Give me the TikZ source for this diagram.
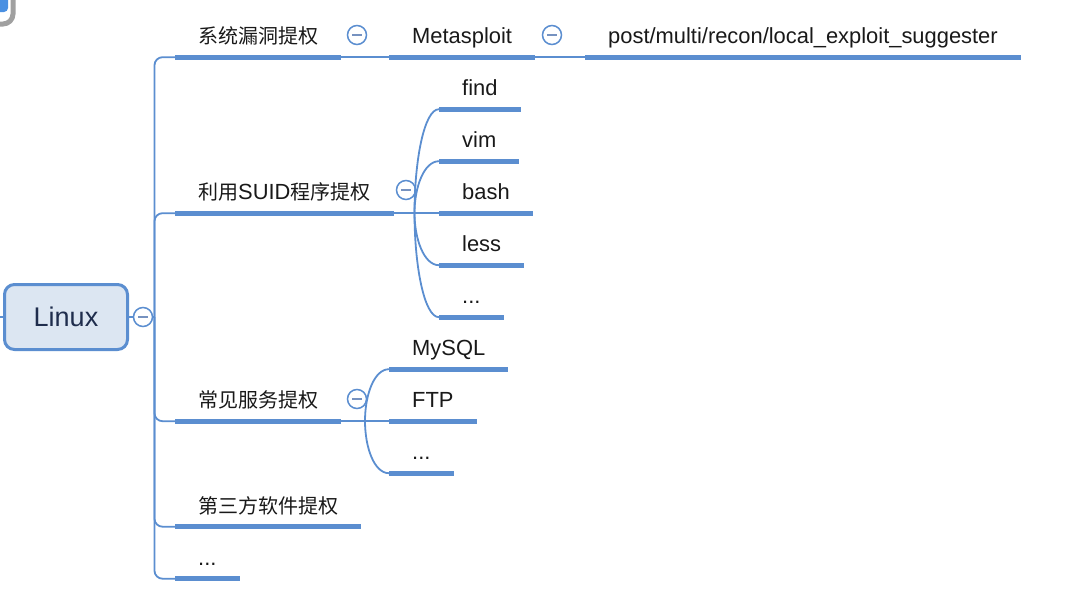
\documentclass[tikz,border=0pt]{standalone}
\usepackage{fontspec}
\setmainfont{Liberation Sans}
\newfontfamily\cjk{Noto Sans CJK SC}
\newcommand\zhtext[1]{{\cjk\fontsize{20}{24}\selectfont #1}}
\usetikzlibrary{positioning,calc}
\definecolor{mapblue}{RGB}{91,142,208}
\definecolor{rootfill}{RGB}{220,230,242}
\definecolor{roottext}{RGB}{31,45,77}
\definecolor{minusgray}{RGB}{118,146,192}
\definecolor{artgray}{RGB}{160,160,160}
\definecolor{artblue}{RGB}{74,144,226}
\tikzset{
  topic/.style={anchor=base west, inner xsep=23pt, inner ysep=13.5pt, text depth=0pt,
    font=\fontsize{21.9}{24}\selectfont, text=black!90},
  root/.style={draw=mapblue, line width=3pt, fill=rootfill, rounded corners=10pt,
    minimum width=123pt, minimum height=65pt, text=roottext, font=\fontsize{27}{30}\selectfont},
  uline/.style={line width=5pt, mapblue},
  conn/.style={line width=1.8pt, mapblue},
  fold/.style={circle, draw=mapblue, line width=1.5pt, fill=white, minimum size=19pt, inner sep=0pt,
    path picture={\draw[minusgray, line width=1.6pt] ([xshift=-5pt]path picture bounding box.center) -- ([xshift=5pt]path picture bounding box.center);}},
}
\begin{document}
\begin{tikzpicture}[x=1pt, y=-1pt]
\useasboundingbox (0,0) rectangle (1068,592);
\clip (0,0) rectangle (1068,592);
% cut-off window corner
\fill[artblue, rounded corners=4pt] (-5,-5) -- (8,-5) -- (8,12) -- (-5,12) -- cycle;
\draw[artgray, line width=5pt, rounded corners=10pt] (-5,24) -- (13,24) -- (13,-5);
% root
\node[root] (root) at (66,317) {Linux};
\coordinate (in) at (0,317);
\node[fold] (f0) at (143,317) {};
\coordinate (j0) at (154.5,317);
% first level
\node[topic] (t1) at (175,43.5) {\zhtext{系统漏洞提权}};
\node[topic] (t2) at (175,199.5) {\zhtext{利用}SUID\zhtext{程序提权}};
\node[topic] (t3) at (175,407.5) {\zhtext{常见服务提权}};
\node[topic] (t4) at (175,513) {\zhtext{第三方软件提权}};
\node[topic] (t5) at (175,565) {...};
% system exploits
\node[topic] (t1a) at (389,43.5) {Metasploit};
\node[topic] (t1b) at (585,43.5) {post/multi/recon/local\_exploit\_suggester};
\node[fold] (f1) at (357,35) {};
\node[fold] (f1a) at (552,35) {};
% suid programs
\node[topic] (s1) at (439,95.5) {find};
\node[topic] (s2) at (439,147.5) {vim};
\node[topic] (s3) at (439,199.5) {bash};
\node[topic] (s4) at (439,251.5) {less};
\node[topic] (s5) at (439,303.5) {...};
\node[fold] (f2) at (406,190) {};
\coordinate (j2) at (414.5,213);
% services
\node[topic] (m1) at (389,355.5) {MySQL};
\node[topic] (m2) at (389,407.5) {FTP};
\node[topic] (m3) at (389,459.5) {...};
\node[fold] (f3) at (357,399) {};
\coordinate (j3) at (365,421);
% underlines
\foreach \n in {t1,t2,t3,t4,t5,t1a,t1b,s1,s2,s3,s4,s5,m1,m2,m3}
  \draw[uline] (\n.south west) -- (\n.south east);
% connectors
\draw[conn] (in) -- (root.west);
\draw[conn] (root.east) -- (f0.west);
\draw[conn] (f0.east) -- (j0);
\foreach \n in {t1,t2,t3,t4,t5}
  \draw[conn, rounded corners=8pt] (j0) |- (\n.south west);
\draw[conn] (t1.south east) -- (t1a.south west);
\draw[conn] (t1a.south east) -- (t1b.south west);
\draw[conn] (t2.south east) -- (s3.south west);
\foreach \n in {s1,s2,s4,s5}
  \draw[conn] (j2) .. controls ($(j2)!.5!(j2 |- \n.south west)$) and ($(\n.south west)+(-15,0)$) .. (\n.south west);
\draw[conn] (t3.south east) -- (m2.south west);
\foreach \n in {m1,m3}
  \draw[conn] (j3) .. controls ($(j3)!.5!(j3 |- \n.south west)$) and ($(\n.south west)+(-15,0)$) .. (\n.south west);
\end{tikzpicture}
\end{document}
